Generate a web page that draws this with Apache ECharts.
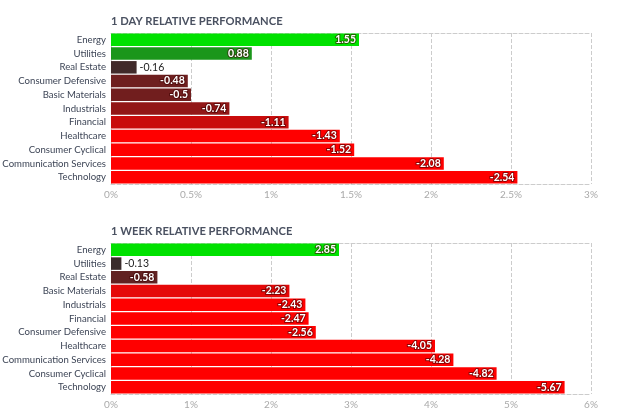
<!DOCTYPE html>
<html>
<head>
<meta charset="utf-8">
<script src="https://cdn.jsdelivr.net/npm/echarts@6/dist/echarts.min.js"></script>
<style>
  html, body { margin: 0; padding: 0; background: #fff; }
  #chart { width: 618px; height: 417px; }
</style>
</head>
<body>
<div id="chart"></div>
<script>
// 1 day
var dayCategories = ['Energy', 'Utilities', 'Real Estate', 'Consumer Defensive', 'Basic Materials', 'Industrials',
  'Financial', 'Healthcare', 'Consumer Cyclical', 'Communication Services', 'Technology'];
var dayValues = [1.55, 0.88, -0.16, -0.48, -0.5, -0.74, -1.11, -1.43, -1.52, -2.08, -2.54];
var dayColors = ['#00e100', '#1a961a', '#412a2a', '#6e1f1f', '#711e1e', '#921717', '#c90c0c',
  '#ff0000', '#ff0000', '#ff0000', '#ff0000'];
var dayTicks = { max: 3, interval: 0.5 };

// 1 week
var weekCategories = ['Energy', 'Utilities', 'Real Estate', 'Basic Materials', 'Industrials', 'Financial',
  'Consumer Defensive', 'Healthcare', 'Communication Services', 'Consumer Cyclical', 'Technology'];
var weekValues = [2.85, -0.13, -0.58, -2.23, -2.43, -2.47, -2.56, -4.05, -4.28, -4.82, -5.67];
var weekColors = ['#00e100', '#3a2c2c', '#622222', '#e50909', '#ff0000', '#ff0000', '#ff0000',
  '#ff0000', '#ff0000', '#ff0000', '#ff0000'];
var weekTicks = { max: 6, interval: 1 };

var font = 'Lato, "Noto Sans", sans-serif';

function barData(values, colors, max) {
  return values.map(function (v, i) {
    var small = Math.abs(v) / max * 480 < 34;
    return {
      value: Math.abs(v),
      signed: v,
      itemStyle: { color: colors[i] },
      label: small ? {
        position: 'right', color: '#222', fontWeight: 'normal', textBorderColor: '#fff', textBorderWidth: 2
      } : {
        position: 'insideRight', color: '#fff', textBorderColor: 'rgba(60,0,0,0.55)', textBorderWidth: 2
      }
    };
  });
}

function xAxes(gridIndex, ticks) {
  return [{
    type: 'value', gridIndex: gridIndex, min: 0, max: ticks.max, interval: ticks.interval,
    axisLine: { show: true, lineStyle: { color: '#ccc', type: 'dashed' } },
    axisTick: { show: false },
    axisLabel: { color: '#aaa', fontFamily: font, fontSize: 10, margin: 6,
      formatter: function (v) { return v + '%'; } },
    splitLine: { show: true, lineStyle: { color: '#ccc', type: 'dashed' } }
  }, {
    type: 'value', gridIndex: gridIndex, position: 'top', min: 0, max: ticks.max,
    axisLine: { show: true, lineStyle: { color: '#ccc', type: 'dashed' } },
    axisTick: { show: false }, axisLabel: { show: false }, splitLine: { show: false }
  }];
}

function yAxis(gridIndex, cats) {
  return {
    type: 'category', gridIndex: gridIndex, inverse: true, data: cats,
    axisLine: { show: false }, axisTick: { show: false },
    axisLabel: { color: '#3d4556', fontFamily: font, fontSize: 9.6, margin: 5, interval: 0 }
  };
}

var labelBase = {
  show: true, fontFamily: font, fontSize: 10.5, fontWeight: 'bold', distance: 3,
  formatter: function (p) { return p.data.signed; }
};

var dom = document.getElementById('chart');
var myChart = echarts.init(dom, null, { renderer: 'canvas' });

var option = {
  animation: false,
  title: [
    { text: '1 DAY RELATIVE PERFORMANCE', left: 106, top: 11,
      textStyle: { fontFamily: font, fontSize: 11.2, fontWeight: 'bold', color: '#4a5161' } },
    { text: '1 WEEK RELATIVE PERFORMANCE', left: 106, top: 221,
      textStyle: { fontFamily: font, fontSize: 11.2, fontWeight: 'bold', color: '#4a5161' } }
  ],
  grid: [
    { left: 111, top: 33, width: 480, height: 151, outerBoundsMode: 'none' },
    { left: 111, top: 243, width: 480, height: 151, outerBoundsMode: 'none' }
  ],
  xAxis: xAxes(0, dayTicks).concat(xAxes(1, weekTicks)),
  yAxis: [yAxis(0, dayCategories), yAxis(1, weekCategories)],
  series: [
    { type: 'bar', xAxisIndex: 0, yAxisIndex: 0, barCategoryGap: '9%',
      label: labelBase, data: barData(dayValues, dayColors, dayTicks.max) },
    { type: 'bar', xAxisIndex: 2, yAxisIndex: 1, barCategoryGap: '9%',
      label: labelBase, data: barData(weekValues, weekColors, weekTicks.max) }
  ]
};

myChart.setOption(option);
window.addEventListener('resize', myChart.resize);
</script>
</body>
</html>
